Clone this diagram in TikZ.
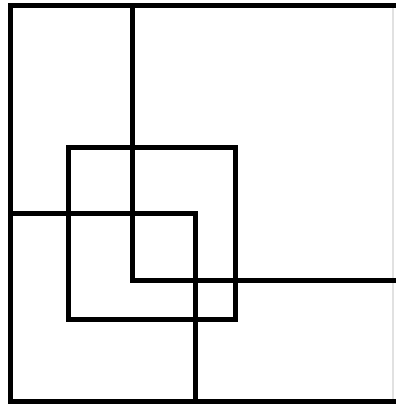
\documentclass[tikz,border=0pt]{standalone}
\usetikzlibrary{backgrounds}
\definecolor{faintgray}{RGB}{225,225,225}

\begin{document}
\begin{tikzpicture}[x=1pt, y=-1pt,
  bar/.style={draw=black, line width=5pt, line cap=rect, line join=miter},
  faint/.style={draw=faintgray, line width=1.5pt}]

\useasboundingbox (0,0) rectangle (397,407);

% --- outer frame: right side only faintly visible
\draw[faint] (393,5) -- (393,401);
\draw[bar] (393,5) -- (10,5) -- (10,401) -- (393,401);

% --- upper L: down from the top, then right to the frame
\draw[bar] (132,5) -- (132,280) -- (393,280);

% --- middle square
\draw[bar] (68,147) rectangle (235,319);

% --- lower L: right from the left side, then down to the frame
\draw[bar] (10,213) -- (195,213) -- (195,401);
\end{tikzpicture}
\end{document}
